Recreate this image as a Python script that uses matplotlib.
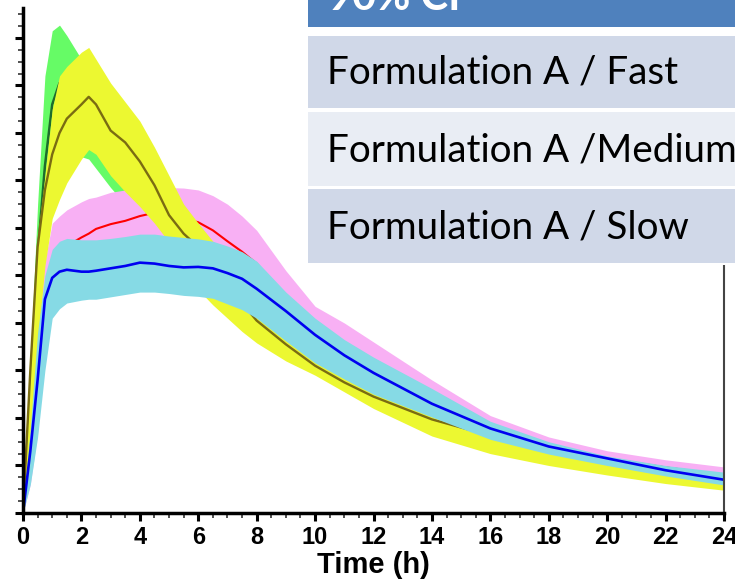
import matplotlib
matplotlib.use("Agg")
import matplotlib.pyplot as plt
from matplotlib.patches import Rectangle
from matplotlib.ticker import MultipleLocator

# ---- data ----
time_h = [0, .25, .5, .75, 1, 1.25, 1.5, 2, 2.25, 2.5, 3, 3.5, 4, 4.5, 5, 5.5, 6, 6.5,
          7, 7.5, 8, 9, 10, 11, 12, 14, 16, 18, 20, 22, 24]

fast_upper = [0, 3.2, 6.5, 9.2, 10.15, 10.27, 10.05, 9.55, 9.3, 9.1, 8.6, 8.1, 7.6, 7.1, 6.6, 6.2,
              5.8, 5.5, 5.2, 4.9, 4.6, 4.0, 3.55, 3.15, 2.8, 2.2, 1.72, 1.38, 1.08, 0.87, 0.68]
fast_median = [0, 2.5, 5.4, 7.3, 8.6, 9.05, 9.0, 8.5, 8.25, 8.0, 7.6, 7.2, 6.9, 6.55, 6.0, 5.55,
               5.15, 4.8, 4.5, 4.2, 3.95, 3.5, 3.1, 2.75, 2.42, 1.9, 1.5, 1.2, 0.97, 0.78, 0.62]
fast_lower = [0, 1.5, 3.6, 5.3, 6.4, 6.85, 7.1, 7.5, 7.45, 7.25, 6.85, 6.5, 6.2, 5.9, 5.55, 5.15,
              4.75, 4.45, 4.15, 3.87, 3.62, 3.25, 2.95, 2.6, 2.25, 1.67, 1.32, 1.04, 0.83, 0.66, 0.5]

medium_upper = [0, 3.0, 5.8, 7.1, 8.5, 9.2, 9.4, 9.7, 9.8, 9.55, 9.05, 8.65, 8.25, 7.7, 7.1, 6.5,
                6.1, 5.72, 5.3, 4.9, 4.6, 4.05, 3.6, 3.2, 2.85, 2.25, 1.75, 1.4, 1.1, 0.88, 0.68]
medium_median = [0, 3.0, 5.6, 6.8, 7.55, 8.0, 8.3, 8.6, 8.76, 8.6, 8.05, 7.8, 7.4, 6.9, 6.27, 5.88,
                 5.6, 5.2, 4.8, 4.42, 4.05, 3.55, 3.1, 2.75, 2.45, 1.97, 1.63, 1.32, 1.06, 0.84, 0.66]
medium_lower = [0, 1.6, 3.6, 5.2, 6.2, 6.6, 6.95, 7.45, 7.65, 7.55, 7.1, 6.76, 6.45, 6.1, 5.7, 5.15,
                4.7, 4.38, 4.1, 3.82, 3.58, 3.2, 2.9, 2.55, 2.2, 1.62, 1.25, 1.0, 0.8, 0.62, 0.48]

slow_upper = [0, 1.8, 3.7, 5.3, 6.1, 6.25, 6.38, 6.55, 6.62, 6.65, 6.75, 6.8, 6.84, 6.85, 6.85, 6.84,
              6.8, 6.68, 6.5, 6.25, 5.95, 5.1, 4.35, 4.0, 3.6, 2.8, 2.05, 1.6, 1.31, 1.12, 0.97]
slow_median = [0, 1.2, 2.7, 4.4, 5.2, 5.45, 5.62, 5.8, 5.88, 5.98, 6.08, 6.15, 6.25, 6.32, 6.27, 6.2,
               6.12, 5.95, 5.72, 5.5, 5.25, 4.55, 4.0, 3.5, 3.15, 2.45, 1.85, 1.45, 1.15, 0.96, 0.8]
slow_lower = [0, 0.6, 1.7, 3.5, 4.3, 4.65, 4.86, 5.05, 5.14, 5.3, 5.4, 5.5, 5.65, 5.79, 5.7, 5.56,
              5.44, 5.22, 4.94, 4.75, 4.55, 4.0, 3.65, 3.1, 2.75, 2.2, 1.7, 1.35, 1.1, 0.85, 0.65]

ref_upper = [0, 1.8, 3.8, 5.0, 5.55, 5.72, 5.78, 5.75, 5.75, 5.75, 5.78, 5.82, 5.87, 5.87, 5.83, 5.8,
             5.77, 5.72, 5.62, 5.5, 5.3, 4.65, 4.1, 3.65, 3.28, 2.62, 1.93, 1.5, 1.2, 1.0, 0.86]
ref_median = [0, 1.3, 2.8, 4.5, 4.95, 5.08, 5.12, 5.08, 5.08, 5.1, 5.15, 5.2, 5.27, 5.25, 5.2, 5.17,
              5.18, 5.15, 5.05, 4.93, 4.72, 4.25, 3.75, 3.32, 2.95, 2.3, 1.78, 1.4, 1.15, 0.9, 0.7]
ref_lower = [0, 0.6, 1.6, 3.0, 4.1, 4.3, 4.42, 4.48, 4.5, 4.5, 4.55, 4.6, 4.65, 4.65, 4.62, 4.58,
             4.56, 4.52, 4.4, 4.28, 4.1, 3.62, 3.16, 2.82, 2.5, 2.02, 1.55, 1.24, 1.0, 0.78, 0.59]

x_ticks = [0, 2, 4, 6, 8, 10, 12, 14, 16, 18, 20, 22, 24]
table_header = "90% CI"
table_rows = ["Formulation A / Fast", "Formulation A /Medium", "Formulation A / Slow"]

# ---- figure ----
W, H = 735, 580
fig = plt.figure(figsize=(W / 100, H / 100), dpi=100)
ax = fig.add_axes([23 / W, 1 - 513 / H, (724 - 23) / W, (513 - 8) / H])

ax.fill_between(time_h, fast_lower, fast_upper, color="#66FB66", lw=0, zorder=1)
ax.plot(time_h, fast_median, color="#1E6B2C", lw=1.8, zorder=1.1)
ax.fill_between(time_h, slow_lower, slow_upper, color="#F8B0F4", lw=0, zorder=1.2)
ax.plot(time_h, slow_median, color="#FF0000", lw=1.5, zorder=1.3)
ax.fill_between(time_h, medium_lower, medium_upper, color="#ECF831", lw=0, zorder=1.4)
ax.plot(time_h, medium_median, color="#7A6C12", lw=1.7, zorder=1.5)
ax.fill_between(time_h, ref_lower, ref_upper, color="#86DAE5", lw=0, zorder=1.6)
ax.plot(time_h, ref_median, color="#0000F0", lw=1.9, zorder=1.7)

ax.set_xlim(0, 24)
ax.set_ylim(0, 10.63)
ax.set_xticks(x_ticks)
ax.xaxis.set_minor_locator(MultipleLocator(0.5))
ax.yaxis.set_major_locator(MultipleLocator(1))
ax.yaxis.set_minor_locator(MultipleLocator(0.25))
ax.tick_params(axis="y", which="both", labelleft=False)
ax.tick_params(axis="both", which="major", length=6, width=2.2, color="black")
ax.tick_params(axis="both", which="minor", length=3.5, width=1.2, color="#333333")
ax.tick_params(axis="x", pad=3)
for lab in ax.get_xticklabels():
    lab.set_fontfamily("Liberation Sans")
    lab.set_fontweight("bold")
    lab.set_fontsize(17)
ax.set_xlabel("Time (h)", fontfamily="Liberation Sans", fontweight="bold", fontsize=21, labelpad=2)

ax.spines["top"].set_visible(False)
ax.spines["left"].set_linewidth(2.5)
ax.spines["bottom"].set_linewidth(2.5)
ax.spines["right"].set_linewidth(1.5)
ax.spines["right"].set_color("#444444")

# ---- table overlay ----
def box(y0, y1, color):
    fig.add_artist(Rectangle((308 / W, 1 - y1 / H), (W - 308) / W + 0.01, (y1 - y0) / H,
                             transform=fig.transFigure, facecolor=color, edgecolor="none",
                             zorder=10))

box(-20, 265, "white")
box(-20, 27, "#4F81BD")
box(36, 108, "#D0D8E8")
box(112, 186, "#E9EDF4")
box(189, 263, "#D0D8E8")

fig.text(328 / W, 1 - 10 / H, table_header, color="white", fontweight="bold",
         fontfamily="Lato", fontsize=30, ha="left", va="baseline", zorder=11)
row_centers = [69, 147, 224]
for label, yc in zip(table_rows, row_centers):
    fig.text(327 / W, 1 - yc / H, label, color="black", fontfamily="Lato", fontsize=27.8,
             ha="left", va="center_baseline", zorder=11)

fig.savefig("out.png", dpi=100)
